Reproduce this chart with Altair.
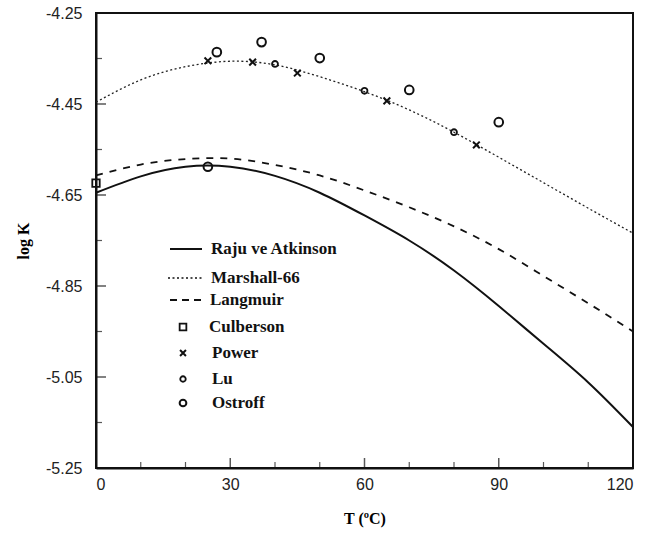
import altair as alt
import pandas as pd

# ---- data ----
T_curve = [0, 10, 20, 30, 40, 50, 60, 70, 80, 90, 100, 110, 120]
raju = [-4.645, -4.609, -4.588, -4.588, -4.608, -4.645, -4.695, -4.750, -4.816, -4.894, -4.977, -5.062, -5.160]
marshall = [-4.446, -4.397, -4.368, -4.356, -4.364, -4.390, -4.423, -4.463, -4.512, -4.567, -4.623, -4.679, -4.734]
langmuir = [-4.607, -4.583, -4.571, -4.570, -4.584, -4.607, -4.640, -4.677, -4.719, -4.769, -4.828, -4.888, -4.950]

culberson_T = [0]
culberson_K = [-4.624]
power_T = [25, 35, 45, 65, 85]
power_K = [-4.355, -4.358, -4.382, -4.443, -4.540]
lu_T = [40, 60, 80]
lu_K = [-4.362, -4.421, -4.512]
ostroff_T = [25, 27, 37, 50, 70, 90]
ostroff_K = [-4.588, -4.336, -4.314, -4.349, -4.419, -4.490]

x_ticks = [0, 30, 60, 90, 120]
x_minor = [10, 20, 40, 50, 70, 80, 100, 110]
y_ticks = [-4.25, -4.45, -4.65, -4.85, -5.05, -5.25]
y_minor = [-4.35, -4.55, -4.75, -4.95, -5.15]

W, H = 537, 455
SERIF = "Liberation Serif"
SANS = "Liberation Sans"

xscale = alt.Scale(domain=[0, 120], nice=False, zero=False)
yscale = alt.Scale(domain=[-5.25, -4.25], nice=False, zero=False)

xaxis = alt.Axis(values=x_ticks, title="T (ºC)", format="d", grid=False,
                 tickSize=0, labelPadding=8, labelFont=SANS, labelFontSize=16,
                 labelColor="#222", titleFont=SERIF, titleFontSize=16,
                 titleFontWeight="bold", titlePadding=18, domainColor="#111",
                 domainWidth=2)
yaxis = alt.Axis(values=y_ticks, title="log K", format=".2f", grid=False,
                 labelExpr="replace(datum.label, '\u2212', '-')",
                 tickSize=0, labelPadding=14, labelFont=SANS, labelFontSize=16,
                 labelColor="#222", titleFont=SERIF, titleFontSize=16,
                 titleFontWeight="bold", titlePadding=14, domainColor="#111",
                 domainWidth=2)

curves = pd.DataFrame({"T": T_curve, "raju": raju, "marshall": marshall, "langmuir": langmuir})

base = alt.Chart(curves)
line_raju = base.mark_line(color="#111", strokeWidth=2, interpolate="natural").encode(
    x=alt.X("T:Q", scale=xscale, axis=xaxis),
    y=alt.Y("raju:Q", scale=yscale, axis=yaxis))
line_marshall = base.mark_line(color="#222", strokeWidth=1.3, strokeDash=[2, 2.5],
                               interpolate="natural").encode(
    x=alt.X("T:Q", scale=xscale), y=alt.Y("marshall:Q", scale=yscale))
line_langmuir = base.mark_line(color="#111", strokeWidth=1.8, strokeDash=[7, 7],
                               interpolate="natural").encode(
    x=alt.X("T:Q", scale=xscale), y=alt.Y("langmuir:Q", scale=yscale))


def pts(Ts, Ks, shape, size, sw):
    df = pd.DataFrame({"T": Ts, "K": Ks})
    return alt.Chart(df).mark_point(shape=shape, size=size, filled=False,
                                    color="#111", strokeWidth=sw, opacity=1).encode(
        x=alt.X("T:Q", scale=xscale), y=alt.Y("K:Q", scale=yscale))


p_cul = pts(culberson_T, culberson_K, "square", 55, 1.8)
p_pow = pts(power_T, power_K, "M-1,-1L1,1M-1,1L1,-1", 45, 2)
p_lu = pts(lu_T, lu_K, "circle", 35, 1.8)
p_ost = pts(ostroff_T, ostroff_K, "circle", 75, 2)

# small inner ticks
tick_x_major = alt.Chart(pd.DataFrame({"T": x_ticks[1:-1]})).mark_tick(
    color="#111", size=10, thickness=1.5, yOffset=-5).encode(
    x=alt.X("T:Q", scale=xscale), y=alt.value(H))
tick_x_minor = alt.Chart(pd.DataFrame({"T": x_minor})).mark_tick(
    color="#111", size=6, thickness=1.2, yOffset=-3).encode(
    x=alt.X("T:Q", scale=xscale), y=alt.value(H))
tick_y_major = alt.Chart(pd.DataFrame({"K": y_ticks[1:-1]})).mark_tick(
    color="#111", size=10, thickness=1.5, xOffset=5, orient="horizontal").encode(
    y=alt.Y("K:Q", scale=yscale), x=alt.value(0))
tick_y_minor = alt.Chart(pd.DataFrame({"K": y_minor})).mark_tick(
    color="#111", size=6, thickness=1.2, xOffset=3, orient="horizontal").encode(
    y=alt.Y("K:Q", scale=yscale), x=alt.value(0))

# ---- hand-made legend (pixel positions inside the plot area) ----
legend_labels = ["Raju ve Atkinson", "Marshall-66", "Langmuir", "Culberson", "Power", "Lu", "Ostroff"]
leg_y = [236, 265, 287, 314, 340, 366, 390]
leg_text_x = [115, 115, 114, 113, 116, 116, 116]
one = pd.DataFrame({"a": [0]})
legend_layers = []
for lab, yy, tx in zip(legend_labels, leg_y, leg_text_x):
    legend_layers.append(alt.Chart(one).mark_text(
        text=lab, font=SERIF, fontSize=17, fontWeight="bold", align="left",
        baseline="middle", color="#111").encode(x=alt.value(tx), y=alt.value(yy)))
line_styles = [dict(strokeWidth=2), dict(strokeWidth=1.3, strokeDash=[2, 2.5]),
               dict(strokeWidth=1.8, strokeDash=[7, 5])]
line_x = [(74, 106), (72, 106), (74, 107)]
for i in range(3):
    legend_layers.append(alt.Chart(one).mark_rule(color="#111", **line_styles[i]).encode(
        x=alt.value(line_x[i][0]), x2=alt.value(line_x[i][1]), y=alt.value(leg_y[i])))
sym = [("square", 45, 1.8), ("M-1,-1L1,1M-1,1L1,-1", 35, 2), ("circle", 30, 1.8), ("circle", 45, 2)]
for (shape, size, sw), yy in zip(sym, leg_y[3:]):
    legend_layers.append(alt.Chart(one).mark_point(
        shape=shape, size=size, filled=False, color="#111", strokeWidth=sw, opacity=1).encode(
        x=alt.value(87), y=alt.value(yy)))

chart = alt.layer(
    line_raju, line_marshall, line_langmuir, p_cul, p_pow, p_lu, p_ost,
    tick_x_major, tick_x_minor, tick_y_major, tick_y_minor, *legend_layers
).properties(
    width=W, height=H,
    autosize="none",
    padding={"left": 96, "top": 13, "right": 21, "bottom": 68},
    background="white",
).configure_view(stroke="#111", strokeWidth=2)

chart.save("out.html", embed_options={"renderer": "svg", "actions": False})
